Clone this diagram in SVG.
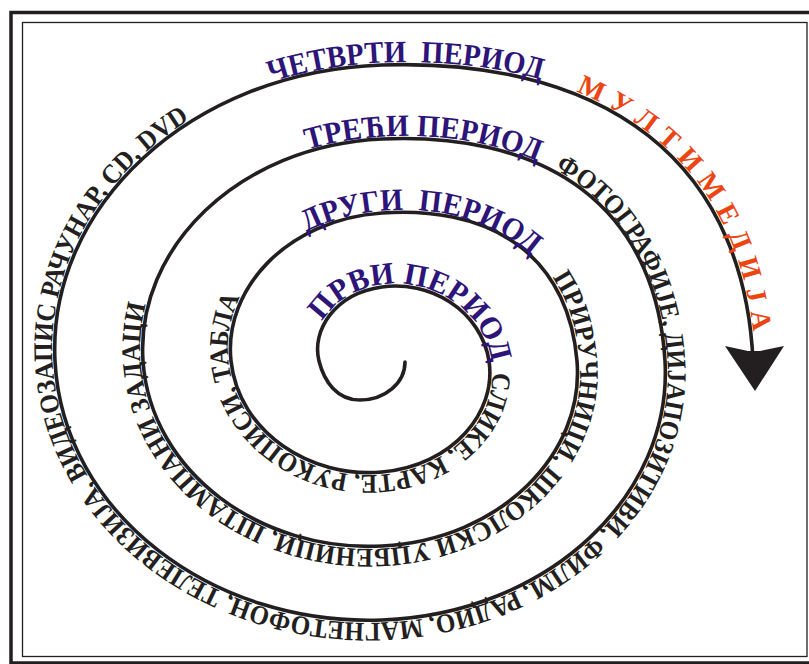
<svg xmlns="http://www.w3.org/2000/svg" width="809" height="664" viewBox="0 0 809 664">
<style>
.frame{fill:none;stroke:#231F20}
.spiral{fill:none;stroke:#231F20;stroke-width:3.6;stroke-linecap:round;stroke-linejoin:round}
.t{font-family:"Liberation Serif","Times New Roman",serif;font-weight:bold}
.per{font-size:31px;fill:#2D1478}
.blk{font-size:27px;fill:#231F20}
.mm{font-size:28px;fill:#EC4512;letter-spacing:0.8px}
</style>
<defs>
<path id="p1" d="M316.19,338.01 C322.45,308.06 355.13,282.14 398.89,283.67 C442.65,285.20 484.78,315.40 491.5,361"/>
<path id="p2" d="M491.5,361 C497.57,402.16 471.77,445.88 421.28,465.43 C370.79,484.98 306.69,474.91 264.94,434.24 C223.19,393.57 214.28,330.92 250.70,279.06"/>
<path id="p3" d="M262.41,264.56 C297.36,226.64 353.72,207.31 415.58,210.09 C477.44,212.87 540.51,245.40 564.41,299.17"/>
<path id="p4" d="M544.38,266.50 C567.02,294.09 576.69,327.12 579.5,361 C587.24,454.34 503.23,542.0 382,548.5 C260.77,555.0 148.24,474.77 140.5,361 C138.73,335.04 142.74,308.74 152.55,283.53"/>
<path id="p5" d="M245.05,177.07 C295.78,146.22 358.48,133.55 423.74,136.48 C489.0,139.41 558.05,159.51 603.75,204.79"/>
<path id="p6" d="M540.75,162.06 C623.94,199.58 662.86,280.52 667.5,361 C675.24,495.21 551.83,616.0 382,622.5 C212.17,629.0 60.24,515.64 52.5,361 C47.71,265.14 101.15,171.53 197.90,114.59"/>
<path id="p7" d="M197.90,114.59 C257.58,79.47 329.53,62.06 404.14,62.14 C478.75,62.22 557.32,75.05 622.22,114.47"/>
<path id="p8" d="M571.05,89.59 C628.48,111.50 677.39,149.78 707.93,197.37 C738.47,244.96 751.32,297.78 754.94,351.05"/>
</defs>
<rect width="809" height="664" fill="#fff"/>
<g id="frame">
<rect class="frame" x="11" y="12.5" width="806" height="650.5" stroke-width="3.5"/>
<rect class="frame" x="22.5" y="22.5" width="784.5" height="634" stroke-width="1.3"/>
</g>
<g id="connectors">
<path class="spiral" d="M405,362 C405,383 385,400 360,400 C337,400 324.1,381.4 319,361 C311.26,330.35 335.05,293.5 382,287 C404.54,283.88 429.27,288.7 449.9,302.1 C470.53,315.5 485.29,336.47 489,361 C496.74,412.09 453.25,465.5 382,472 C310.75,478.5 238.74,432.52 231,361 C223.26,289.48 286.45,219.5 382,213 C427.88,209.88 479.04,216.42 517.8,244.9 C556.56,273.38 573.29,316.84 577,361 C584.74,452.96 501.85,539.5 382,546 C262.15,552.5 150.74,473.39 143,361 C135.26,248.61 237.85,145.5 382,139 C451.22,135.88 526.95,147.09 583,190.1 C639.05,233.11 661.29,297.22 665,361 C672.74,493.83 550.45,613.5 382,620 C213.55,626.5 62.74,514.26 55,361 C47.26,207.74 189.25,71.5 382,65 C474.56,61.88 574.71,77.89 648,135.4 C721.29,192.91 749.29,277.59 753,361"/>
<polygon points="725,346 748,351 760,351 784,346 755,391" fill="#231F20"/>
</g>
<g id="period1"><text class="t per" text-anchor="middle"><textPath href="#p1" startOffset="54%" textLength="222" lengthAdjust="spacingAndGlyphs">ПРВИ ПЕРИОД</textPath></text></g>
<g id="media1"><text class="t blk" text-anchor="middle"><textPath href="#p2" startOffset="49%" textLength="442" lengthAdjust="spacingAndGlyphs">СЛИКЕ, КАРТЕ, РУКОПИСИ, ТАБЛА</textPath></text></g>
<g id="period2"><text class="t per" text-anchor="middle" xml:space="preserve"><textPath href="#p3" startOffset="50%" textLength="240" lengthAdjust="spacingAndGlyphs">ДРУГИ  ПЕРИОД</textPath></text></g>
<g id="media2"><text class="t blk" text-anchor="middle"><textPath href="#p4" startOffset="49.5%" textLength="788" lengthAdjust="spacingAndGlyphs">ПРИРУЧНИЦИ, ШКОЛСКИ УЏБЕНИЦИ, ШТАМПАНИ ЗАДАЦИ</textPath></text></g>
<g id="period3"><text class="t per" text-anchor="middle"><textPath href="#p5" startOffset="48.5%" textLength="235" lengthAdjust="spacingAndGlyphs">ТРЕЋИ ПЕРИОД</textPath></text></g>
<g id="media3"><text class="t blk" text-anchor="middle"><textPath href="#p6" startOffset="50.2%" textLength="1420" lengthAdjust="spacingAndGlyphs">ФОТОГРАФИЈЕ, ДИЈАПОЗИТИВИ, ФИЛМ, РАДИО, МАГНЕТОФОН, ТЕЛЕВИЗИЈА, ВИДЕОЗАПИС РАЧУНАР, CD, DVD</textPath></text></g>
<g id="period4"><text class="t per" text-anchor="middle" xml:space="preserve"><textPath href="#p7" startOffset="49%" textLength="274" lengthAdjust="spacingAndGlyphs">ЧЕТВРТИ  ПЕРИОД</textPath></text></g>
<g id="multimedia"><text class="t mm" text-anchor="middle"><textPath href="#p8" startOffset="48%">М У Л Т И М Е Д И Ј А</textPath></text></g>
</svg>
